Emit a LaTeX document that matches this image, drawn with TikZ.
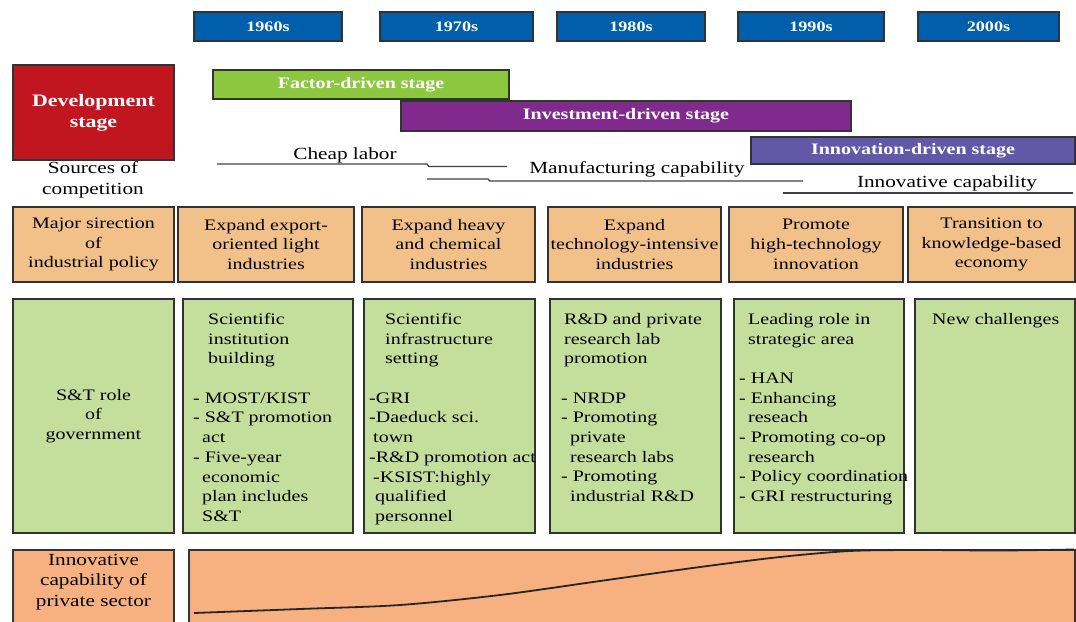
\documentclass[tikz,border=0pt]{standalone}
\usepackage{fontspec}
\setmainfont[FakeStretch=1.25]{Liberation Serif}

\definecolor{decadeblue}{RGB}{0,94,170}
\definecolor{stagered}{RGB}{193,22,32}
\definecolor{factorgreen}{RGB}{141,198,63}
\definecolor{investpurple}{RGB}{128,42,142}
\definecolor{innovblue}{RGB}{98,88,168}
\definecolor{policyorange}{RGB}{241,193,137}
\definecolor{rolegreen}{RGB}{196,223,155}
\definecolor{capsalmon}{RGB}{247,176,128}

\newcommand{\cellfont}{\fontsize{16}{19.7}\selectfont}
\newcommand{\dashgap}{\hspace*{9pt}}

\tikzset{
    box/.style={draw=black!80, line width=1.2pt, anchor=north west, inner sep=0pt, outer sep=0pt, align=center},
    decade/.style={box, fill=decadeblue, text=white, minimum height=29pt, font=\fontsize{14.5}{16}\selectfont\bfseries},
    stagebar/.style={box, text=white, font=\fontsize{16}{18}\selectfont\bfseries},
    policy/.style={box, fill=policyorange, minimum height=75pt, font=\cellfont},
    role/.style={box, fill=rolegreen, minimum height=234pt, font=\cellfont},
    roletext/.style={anchor=north west, inner sep=0pt, align=left, font=\cellfont},
    caption/.style={inner sep=0pt, align=center, font=\fontsize{17}{20.5}\selectfont},
    capline/.style={draw=black!75, line width=1.2pt}
}

\begin{document}
\begin{tikzpicture}[x=1pt, y=-1pt]
    \useasboundingbox (0,0) rectangle (1076,621);

    % decades
    \node[decade, minimum width=148pt] (y60) at (194,12) {1960s};
    \node[decade, minimum width=153pt] (y70) at (380,12) {1970s};
    \node[decade, minimum width=148pt] (y80) at (557,12) {1980s};
    \node[decade, minimum width=146pt] (y90) at (738,12) {1990s};
    \node[decade, minimum width=141pt] (y00) at (918,12) {2000s};

    % development stages
    \node[stagebar, fill=stagered, minimum width=161pt, minimum height=95pt, font=\fontsize{17.5}{21}\selectfont\bfseries] (dev) at (13,65) {Development\\stage};
    \node[stagebar, fill=factorgreen, minimum width=296pt, minimum height=29pt] (factor) at (213,70) {Factor-driven stage};
    \node[stagebar, fill=investpurple, minimum width=450pt, minimum height=30pt] (invest) at (401,101) {Investment-driven stage};
    \node[stagebar, fill=innovblue, minimum width=324pt, minimum height=27pt] (innov) at (751,137) {Innovation-driven stage};

    % sources of competition
    \node[caption] (sources) at (93,180) {Sources of\\competition};
    \node[caption] (cheap) at (345,155) {Cheap labor};
    \node[caption] (manu) at (637,169) {Manufacturing capability};
    \node[caption] (innocap) at (947,183) {Innovative capability};
    \draw[capline] (217,164) -- (427,164) -- (429,166.5) -- (507,166.5);
    \draw[capline] (427,179) -- (488,179) -- (490,181) -- (803,181);
    \draw[capline] (783,193) -- (1073,193);

    % industrial policy
    \node[policy, minimum width=161pt] (o0) at (13,207) {Major sirection\\of\\industrial policy};
    \node[policy, minimum width=176pt] (o1) at (178,207) {Expand export-\\oriented light\\industries};
    \node[policy, minimum width=173pt] (o2) at (362,207) {Expand heavy\\and chemical\\industries};
    \node[policy, minimum width=173pt] (o3) at (548,207) {Expand\\technology-intensive\\industries};
    \node[policy, minimum width=174pt] (o4) at (729,207) {Promote\\high-technology\\innovation};
    \node[policy, minimum width=167pt] (o5) at (908,207) {Transition to\\knowledge-based\\economy};

    % role of government
    \node[role, minimum width=161pt] (g0) at (13,299) {S\&T role\\of\\government};
    \node[role, minimum width=170pt] (g1) at (183,299) {};
    \node[role, minimum width=171pt] (g2) at (364,299) {};
    \node[role, minimum width=171pt] (g3) at (550,299) {};
    \node[role, minimum width=170pt] (g4) at (734,299) {};
    \node[role, minimum width=160pt] (g5) at (915,299) {};
    \node[roletext, xshift=10pt, yshift=-14pt] (g1t) at (g1.north west)
    {
        \hspace*{15pt}Scientific\\ \hspace*{15pt}institution\\ \hspace*{15pt}building\\[19.7pt]
        - MOST/KIST\\
        - S\&T promotion\\ \dashgap act\\
        - Five-year\\ \dashgap economic\\ \dashgap plan includes\\ \dashgap S\&T
    };
    \node[roletext, xshift=5pt, yshift=-14pt] (g2t) at (g2.north west)
    {
        \hspace*{16pt}Scientific\\ \hspace*{16pt}infrastructure\\ \hspace*{16pt}setting\\[19.7pt]
        -GRI\\
        -Daeduck sci.\\ \hspace*{4pt}town\\
        -R\&D promotion act\\
        \hspace*{4pt}-KSIST:highly\\ \hspace*{6pt}qualified\\ \hspace*{6pt}personnel
    };
    \node[roletext, xshift=11pt, yshift=-14pt] (g3t) at (g3.north west)
    {
        \hspace*{3pt}R\&D and private\\ \hspace*{3pt}research lab\\ \hspace*{3pt}promotion\\[19.7pt]
        - NRDP\\
        - Promoting\\ \dashgap private\\ \dashgap research labs\\
        - Promoting\\ \dashgap industrial R\&D
    };
    \node[roletext, xshift=5pt, yshift=-14pt] (g4t) at (g4.north west)
    {
        \hspace*{9pt}Leading role in\\ \hspace*{9pt}strategic area\\[19.7pt]
        - HAN\\
        - Enhancing\\ \dashgap reseach\\
        - Promoting co-op\\ \dashgap research\\
        - Policy coordination\\
        - GRI restructuring
    };
    \node[roletext, xshift=17pt, yshift=-14pt] (g5t) at (g5.north west) {New challenges};

    % innovative capability of private sector
    \node[box, fill=capsalmon, minimum width=161pt, minimum height=80pt] (b0) at (13,550) {};
    \node[caption, anchor=north, yshift=-4pt] (b0t) at (b0.north) {Innovative\\capability of\\private sector};
    \node[box, fill=capsalmon, minimum width=886pt, minimum height=80pt] (b1) at (189,550) {};
    \draw[black!85, line width=1.8pt] plot[smooth, tension=0.5] coordinates
        {(194,613) (300,609) (400,605) (500,595) (600,581) (700,567) (780,557) (850,551) (920,550) (1000,550.5) (1074,549.5)};
\end{tikzpicture}
\end{document}
